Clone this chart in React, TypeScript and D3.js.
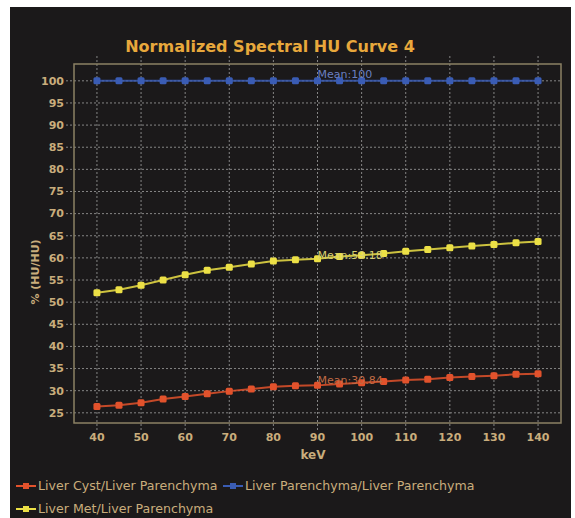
import React, { useEffect, useRef } from 'react';
import { select, scaleLinear, line, range } from 'd3';

const kev = [40, 45, 50, 55, 60, 65, 70, 75, 80, 85, 90, 95, 100, 105, 110, 115, 120, 125, 130, 135, 140];
const cyst = [26.4, 26.7, 27.3, 28.1, 28.7, 29.3, 29.9, 30.4, 30.9, 31.1, 31.2, 31.5, 31.8, 32.1, 32.4, 32.6, 33.0, 33.2, 33.4, 33.7, 33.8];
const parenchyma = [100, 100, 100, 100, 100, 100, 100, 100, 100, 100, 100, 100, 100, 100, 100, 100, 100, 100, 100, 100, 100];
const met = [52.1, 52.8, 53.8, 55.0, 56.2, 57.2, 57.9, 58.6, 59.3, 59.6, 59.8, 60.3, 60.6, 61.0, 61.5, 61.9, 62.3, 62.7, 63.0, 63.4, 63.7];
const meanLabels = ['Mean:30.84', 'Mean:100', 'Mean:59.18'];
const meanValues = [30.84, 100, 59.18];
const seriesNames = ['Liver Cyst/Liver Parenchyma', 'Liver Parenchyma/Liver Parenchyma', 'Liver Met/Liver Parenchyma'];
const xTicks = [40, 50, 60, 70, 80, 90, 100, 110, 120, 130, 140];
const yTicks = range(25, 101, 5);

const colors = ['#e2522c', '#3a5cb4', '#ece046'];
const meanColors = ['#c06a44', '#6a7fc0', '#d8d070'];
const tan = '#c9ad7c';

export default function App() {
  const ref = useRef<SVGSVGElement>(null);

  useEffect(() => {
    const svg = select(ref.current);
    svg.selectAll('*').remove();

    const font = '"DejaVu Sans", sans-serif';
    const left = 74, right = 561, top = 64, bottom = 423;

    svg.append('rect').attr('x', 10).attr('y', 7).attr('width', 561).attr('height', 511).attr('fill', '#1b191a');

    const xScale = scaleLinear().domain([34.8, 145.2]).range([left, right]);
    const yScale = scaleLinear().domain([22.7, 103.8]).range([bottom, top]);

    // grid, sticking out a little past the frame like the original
    const grid = svg.append('g').attr('stroke', '#858585').attr('stroke-dasharray', '2,2').attr('stroke-width', 1);
    grid.selectAll('.gx').data(xTicks)
      .enter().append('line')
      .attr('x1', d => xScale(d)).attr('x2', d => xScale(d))
      .attr('y1', top - 8).attr('y2', bottom + 8);
    grid.selectAll('.gy').data(yTicks)
      .enter().append('line')
      .attr('y1', d => yScale(d)).attr('y2', d => yScale(d))
      .attr('x1', left - 8).attr('x2', right);

    svg.append('rect').attr('x', left).attr('y', top).attr('width', right - left).attr('height', bottom - top)
      .attr('fill', 'none').attr('stroke', '#8c8164').attr('stroke-width', 1.5);

    svg.append('g').selectAll('text').data(yTicks).enter().append('text')
      .attr('x', left - 10).attr('y', d => yScale(d)).attr('dy', '0.35em')
      .attr('text-anchor', 'end').attr('fill', tan).attr('font-family', font)
      .attr('font-size', 11).attr('font-weight', 'bold').text(d => d);
    svg.append('g').selectAll('text').data(xTicks).enter().append('text')
      .attr('x', d => xScale(d)).attr('y', bottom + 18)
      .attr('text-anchor', 'middle').attr('fill', tan).attr('font-family', font)
      .attr('font-size', 11).attr('font-weight', 'bold').text(d => d);

    svg.append('text').attr('x', 313).attr('y', 459).attr('text-anchor', 'middle')
      .attr('fill', tan).attr('font-family', font).attr('font-size', 12).attr('font-weight', 'bold').text('keV');
    svg.append('text').attr('transform', 'translate(39,272) rotate(-90)').attr('text-anchor', 'middle')
      .attr('fill', tan).attr('font-family', font).attr('font-size', 11).attr('font-weight', 'bold').text('% (HU/HU)');

    svg.append('text').attr('x', 270).attr('y', 52).attr('text-anchor', 'middle')
      .attr('fill', '#e8a83c').attr('font-family', font).attr('font-size', 16).attr('font-weight', 'bold')
      .text('Normalized Spectral HU Curve 4');

    const series = [cyst, parenchyma, met];
    const lineGen = line<number>().x((d, i) => xScale(kev[i])).y(d => yScale(d));

    series.forEach((vals, s) => {
      svg.append('path').attr('d', lineGen(vals)).attr('fill', 'none')
        .attr('stroke', colors[s]).attr('stroke-width', 2).attr('opacity', 0.85);
      svg.append('g').selectAll('rect').data(vals).enter().append('rect')
        .attr('x', (d, i) => xScale(kev[i]) - 3.5).attr('y', d => yScale(d) - 3.5)
        .attr('width', 7).attr('height', 7).attr('rx', 1.5).attr('fill', colors[s]);
      svg.append('text').attr('x', xScale(90)).attr('y', yScale(meanValues[s]) - 3)
        .attr('fill', meanColors[s]).attr('font-family', font).attr('font-size', 11)
        .text(meanLabels[s]);
    });

    // legend
    const legendPos = [[16, 486], [223, 486], [16, 509]];
    seriesNames.forEach((name, s) => {
      const [lx, ly] = legendPos[s];
      const g = svg.append('g');
      g.append('line').attr('x1', lx).attr('x2', lx + 20).attr('y1', ly).attr('y2', ly)
        .attr('stroke', colors[s]).attr('stroke-width', 2);
      g.append('rect').attr('x', lx + 7).attr('y', ly - 3).attr('width', 6).attr('height', 6).attr('fill', colors[s]);
      g.append('text').attr('x', lx + 22).attr('y', ly).attr('dy', '0.35em')
        .attr('fill', tan).attr('font-family', font).attr('font-size', 12.6).text(name);
    });
  }, []);

  return (
    <svg ref={ref} width="575" height="518" style={{ position: 'absolute', left: 0, top: 0, background: '#fff' }}></svg>
  );
}
